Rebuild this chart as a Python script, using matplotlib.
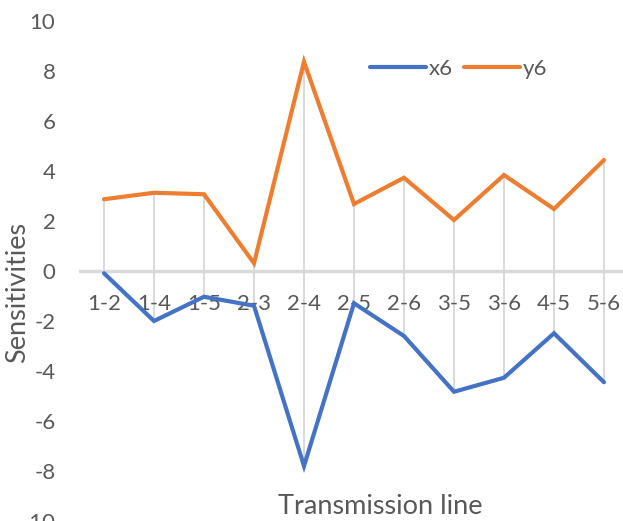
import matplotlib
matplotlib.use("Agg")
import matplotlib.pyplot as plt

categories = ["1-2", "1-4", "1-5", "2-3", "2-4", "2-5", "2-6", "3-5", "3-6", "4-5", "5-6"]
x6 = [-0.09, -2.0, -1.03, -1.39, -7.8, -1.29, -2.6, -4.83, -4.27, -2.49, -4.45]
y6 = [2.87, 3.13, 3.07, 0.31, 8.37, 2.68, 3.73, 2.04, 3.84, 2.48, 4.44]
y_ticks = list(range(-10, 11, 2))

BLUE = "#4472C4"
ORANGE = "#ED7D31"
GRAY = "#D9D9D9"
TEXT = "#595959"
FONT = ["Lato", "DejaVu Sans"]

fig = plt.figure(figsize=(6.23, 5.21), dpi=100)
W, H = 623, 521
# plot area in pixels: left 79, right 629, top 21, bottom 521
ax = fig.add_axes([79 / W, 0.0, 550 / W, 500 / H])
ax.set_xlim(-0.5, len(categories) - 0.5)
ax.set_ylim(-10, 10)

xs = list(range(len(categories)))

# high-low lines between the two series
for i in xs:
    ax.plot([i, i], [min(x6[i], y6[i]), max(x6[i], y6[i])], color=GRAY,
            lw=1.4, zorder=1, solid_capstyle="butt")

# category axis along zero
ax.axhline(0, color=GRAY, lw=2.4, zorder=1.5)

ax.plot(xs, x6, color=BLUE, lw=3.0, label="x6", zorder=3,
        solid_joinstyle="miter", solid_capstyle="round")
ax.plot(xs, y6, color=ORANGE, lw=3.0, label="y6", zorder=3,
        solid_joinstyle="miter", solid_capstyle="round")

for s in ax.spines.values():
    s.set_visible(False)
ax.set_xticks([])
ax.set_yticks(y_ticks)
ax.set_yticklabels([str(v) for v in y_ticks], fontsize=16, color=TEXT, family=FONT)
ax.tick_params(axis="y", length=0, pad=17)

for i, c in enumerate(categories):
    ax.text(i, -1.3, c, ha="center", va="center", fontsize=16, color=TEXT,
            family=FONT, zorder=2)

fig.text(18 / W, 1 - 292 / H, "Sensitivities", rotation=90, ha="center",
         va="center", fontsize=19.5, color=TEXT, family=FONT)
fig.text(380 / W, 1 - 506 / H, "Transmission line", ha="center",
         va="center", fontsize=19.5, color=TEXT, family=FONT)

leg = ax.legend(loc="center", bbox_to_anchor=(459 / W, 1 - 69 / H),
                bbox_transform=fig.transFigure, ncol=2, frameon=False,
                handlelength=2.5, handletextpad=0.15, columnspacing=0.5,
                prop={"family": FONT, "size": 16})
for t in leg.get_texts():
    t.set_color(TEXT)

fig.savefig("out.png", dpi=100)
